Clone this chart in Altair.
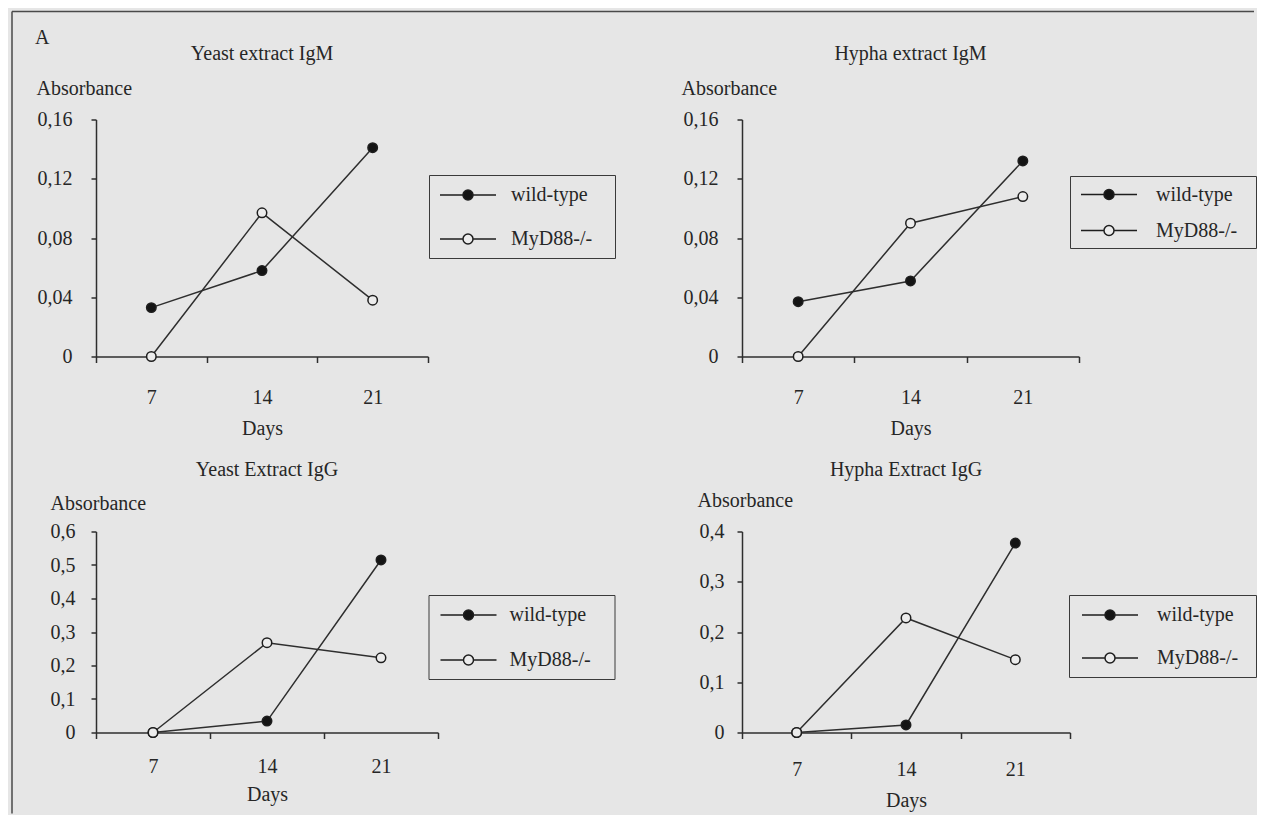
import altair as alt
import pandas as pd

# ---------------- data ----------------
days = [7, 14, 21]
series_names = ["wild-type", "MyD88-/-"]

yeast_igm_wt = [0.033, 0.058, 0.141]
yeast_igm_ko = [0.0, 0.097, 0.038]
hypha_igm_wt = [0.037, 0.051, 0.132]
hypha_igm_ko = [0.0, 0.090, 0.108]
yeast_igg_wt = [0.0, 0.034, 0.515]
yeast_igg_ko = [0.0, 0.268, 0.223]
hypha_igg_wt = [0.0, 0.015, 0.377]
hypha_igg_ko = [0.0, 0.228, 0.145]

panel_titles = ["Yeast extract IgM", "Hypha extract IgM",
                "Yeast Extract IgG", "Hypha Extract IgG"]
y_ticks_igm = [0, 0.04, 0.08, 0.12, 0.16]
y_ticks_yeast_igg = [0, 0.1, 0.2, 0.3, 0.4, 0.5, 0.6]
y_ticks_hypha_igg = [0, 0.1, 0.2, 0.3, 0.4]
x_tick_values = [3.5, 7, 10.5, 14, 17.5, 21, 24.5]
x_domain = [3.5, 24.5]

# ---------------- style ----------------
FONT = "Liberation Serif"
BG = "#e6e6e6"
TXT = "#262626"
INK = "#2e2e2e"
HOLLOW = "#ececec"


def legend_path(reach):
    # line - circle - line glyph; the trailing moveTo only widens the legend frame
    return ("M-2.8,0H-0.5 M0.5,0H2.8 "
            "M-0.5,0 A0.5,0.5 0 1,0 0.5,0 A0.5,0.5 0 1,0 -0.5,0 Z "
            f"M{reach},0")


def panel(title, wt, ko, yticks, dec, w, h, lay, extras=()):
    df = pd.DataFrame({
        "day": days + days,
        "val": wt + ko,
        "series": [series_names[0]] * len(days) + [series_names[1]] * len(days),
    })
    x = alt.X(
        "day:Q",
        scale=alt.Scale(domain=x_domain, nice=False, zero=False),
        axis=alt.Axis(
            values=x_tick_values,
            title="Days",
            labelExpr="datum.value % 7 == 0 ? datum.label : ''",
            tickOpacity={"condition": {"test": "datum.value % 7 == 0", "value": 0}, "value": 1},
            labelFlush=False,
            labelOverlap=False,
            labelBaseline="alphabetic",
            labelPadding=lay["xlp"],
            tickSize=6,
            titleBaseline="alphabetic",
            titleY=lay["xty"],
        ),
    )
    y = alt.Y(
        "val:Q",
        scale=alt.Scale(domain=[0, yticks[-1]], nice=False, zero=True),
        axis=alt.Axis(
            values=yticks,
            title="Absorbance",
            labelExpr=f"datum.value == 0 ? '0' : replace(format(datum.value, '.{dec}f'), '.', ',')",
            labelPadding=lay["ylp"],
            tickSize=5,
            titleAngle=0,
            titleAlign="left",
            titleBaseline="alphabetic",
            titleX=lay["ytx"],
            titleY=lay["yty"],
        ),
    )
    base = alt.Chart(df).encode(x=x, y=y)
    lines = base.mark_line(color=INK, strokeWidth=1.5).encode(detail="series:N")
    pts = base.mark_point(size=90, stroke="#1e1e1e", strokeWidth=1.5, opacity=1).encode(
        fill=alt.Fill(
            "series:N",
            scale=alt.Scale(domain=series_names, range=["#141414", HOLLOW]),
            sort=series_names,
            legend=alt.Legend(
                title=None,
                orient="none",
                legendX=lay["lx"],
                legendY=lay["ly"],
                padding=lay["pad"],
                rowPadding=lay["rp"],
                symbolOffset=lay["so"],
                labelOffset=lay["lo"],
                symbolType=legend_path(lay["reach"]),
                symbolSize=400,
                symbolStrokeColor="#1e1e1e",
                symbolStrokeWidth=1.5,
                strokeColor="#3a3a3a",
                labelFont=FONT,
                labelFontSize=20,
                labelColor=TXT,
            ),
        )
    )
    return alt.layer(lines, pts, *extras).properties(
        width=w,
        height=h,
        title=alt.TitleParams(
            text=title,
            anchor="middle",
            frame="group",
            baseline="alphabetic",
            offset=lay["to"],
            font=FONT,
            fontSize=20,
            fontWeight="normal",
            color=TXT,
        ),
    )


one = pd.DataFrame({"k": [0]})
frame_top = alt.Chart(one).mark_rule(color="#4a4a4a", strokeWidth=1.5).encode(
    x=alt.value(-84), x2=alt.value(1158), y=alt.value(-108))
frame_left = alt.Chart(one).mark_rule(color="#4a4a4a", strokeWidth=1.5).encode(
    x=alt.value(-84), y=alt.value(-108), y2=alt.value(694))
letter = alt.Chart(one).mark_text(
    text="A", align="left", baseline="alphabetic", font=FONT, fontSize=20, color=TXT
).encode(x=alt.value(-61), y=alt.value(-76))

lay1 = dict(xlp=41, xty=78, ylp=19, ytx=-60, yty=-25, lx=333, ly=55.5, pad=9, rp=23,
            so=19, lo=32, reach=13.5, to=-69.25)
lay2 = dict(xlp=41, xty=78, ylp=19, ytx=-61, yty=-25, lx=328, ly=56.5, pad=7.5, rp=15,
            so=20.5, lo=36, reach=13.6, to=-1.5)
lay3 = dict(xlp=34, xty=68, ylp=16, ytx=-46, yty=-22, lx=332.5, ly=63.5, pad=9, rp=24,
            so=20, lo=30, reach=13.4, to=-2.5)
lay4 = dict(xlp=37, xty=74, ylp=13, ytx=-45, yty=-25, lx=327, ly=63.5, pad=9, rp=22,
            so=21, lo=36, reach=13.4, to=-5.5)

p1 = panel(panel_titles[0], yeast_igm_wt, yeast_igm_ko, y_ticks_igm, 2, 332, 237, lay1,
           extras=(frame_top, frame_left, letter))
p2 = panel(panel_titles[1], hypha_igm_wt, hypha_igm_ko, y_ticks_igm, 2, 337, 237, lay2)
p3 = panel(panel_titles[2], yeast_igg_wt, yeast_igg_ko, y_ticks_yeast_igg, 1, 342, 201, lay3)
p4 = panel(panel_titles[3], hypha_igg_wt, hypha_igg_ko, y_ticks_hypha_igg, 1, 328, 201, lay4)

chart = alt.concat(
    p1, p2, p3, p4,
    columns=2,
    spacing={"row": 175, "column": 304},
    bounds="flush",
).resolve_scale(
    fill="independent"
).resolve_legend(
    fill="independent"
).properties(
    background=BG,
    padding={"left": 3, "top": 2.5, "right": 0, "bottom": 0},
).configure(
    font=FONT,
).configure_view(
    strokeOpacity=0,
).configure_axis(
    grid=False,
    domainColor=INK,
    domainWidth=1.5,
    tickColor=INK,
    tickWidth=1.5,
    labelFont=FONT,
    labelFontSize=20,
    labelColor=TXT,
    titleFont=FONT,
    titleFontSize=20,
    titleFontWeight="normal",
    titleColor=TXT,
)

chart.save("out.html", embed_options={"renderer": "svg", "actions": False})
